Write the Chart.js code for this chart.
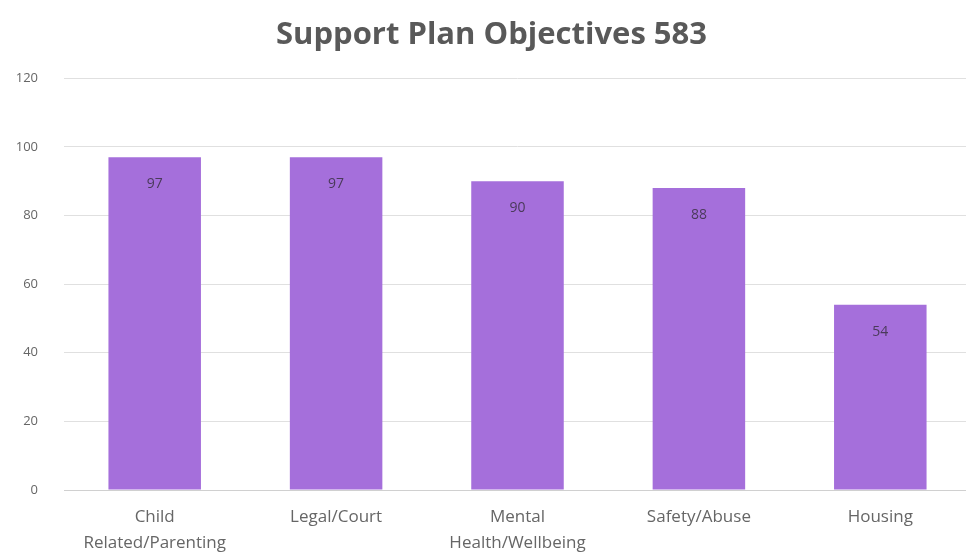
<!DOCTYPE html>
<html lang="en">

<head>
  <meta charset="UTF-8">
  <title>Support Plan Objectives</title>
  <script src="https://cdn.jsdelivr.net/npm/chart.js"></script>
  <style>
    html, body { margin: 0; padding: 0; background: #fff; overflow: hidden; }
    .chart-box { width: 986px; height: 555px; }
  </style>
</head>

<body>
  <div class="chart-box">
    <canvas id="grafico"></canvas>
  </div>

  <script>
    // categorias e valores
    const categorias = [['Child', 'Related/Parenting'], 'Legal/Court', ['Mental', 'Health/Wellbeing'], 'Safety/Abuse', 'Housing'];
    const valores = [97, 97, 90, 88, 54];
    const ticksY = [0, 20, 40, 60, 80, 100, 120];

    const fonte = "'Open Sans', sans-serif";

    // rótulo do valor dentro da barra, perto do topo
    const rotulos = {
      id: 'rotulos',
      afterDatasetsDraw(chart) {
        const ctx = chart.ctx;
        const meta = chart.getDatasetMeta(0);
        ctx.save();
        ctx.font = '14px ' + fonte;
        ctx.fillStyle = '#4a3a5a';
        ctx.textAlign = 'center';
        ctx.textBaseline = 'middle';
        meta.data.forEach((bar, i) => {
          ctx.fillText(valores[i], bar.x, bar.y + 27);
        });
        ctx.restore();
      }
    };

    new Chart(document.getElementById('grafico'), {
      type: 'bar',
      data: {
        labels: categorias,
        datasets: [{
          data: valores,
          backgroundColor: '#a56fdb',
          borderWidth: 0,
          categoryPercentage: 1,
          barPercentage: 0.51
        }]
      },
      options: {
        responsive: true,
        maintainAspectRatio: false,
        animation: false,
        layout: { autoPadding: false, padding: { left: 12, right: 15, top: 9, bottom: 0 } },
        plugins: {
          legend: { display: false },
          tooltip: { enabled: false },
          title: {
            display: true,
            text: 'Support Plan Objectives 583',
            color: '#595959',
            font: { family: fonte, size: 31, weight: 'bold' },
            padding: { top: 8, bottom: 24 }
          }
        },
        scales: {
          x: {
            grid: { display: false },
            border: { display: true, color: '#d0d0d0' },
            afterFit(scale) { scale.height = 65; },
            ticks: {
              color: '#666',
              font: { family: fonte, size: 17, lineHeight: 1.55 },
              padding: 6,
              maxRotation: 0,
              autoSkip: false
            }
          },
          y: {
            min: 0,
            max: 120,
            afterBuildTicks(axis) {
              axis.ticks = ticksY.map(v => ({ value: v }));
            },
            afterFit(scale) { scale.width = 52; },
            grid: { color: '#e0e0e0', drawTicks: false },
            border: { display: false },
            ticks: {
              color: '#666',
              font: { family: fonte, size: 13 },
              padding: 26
            }
          }
        }
      },
      plugins: [rotulos]
    });
  </script>

</body>

</html>
